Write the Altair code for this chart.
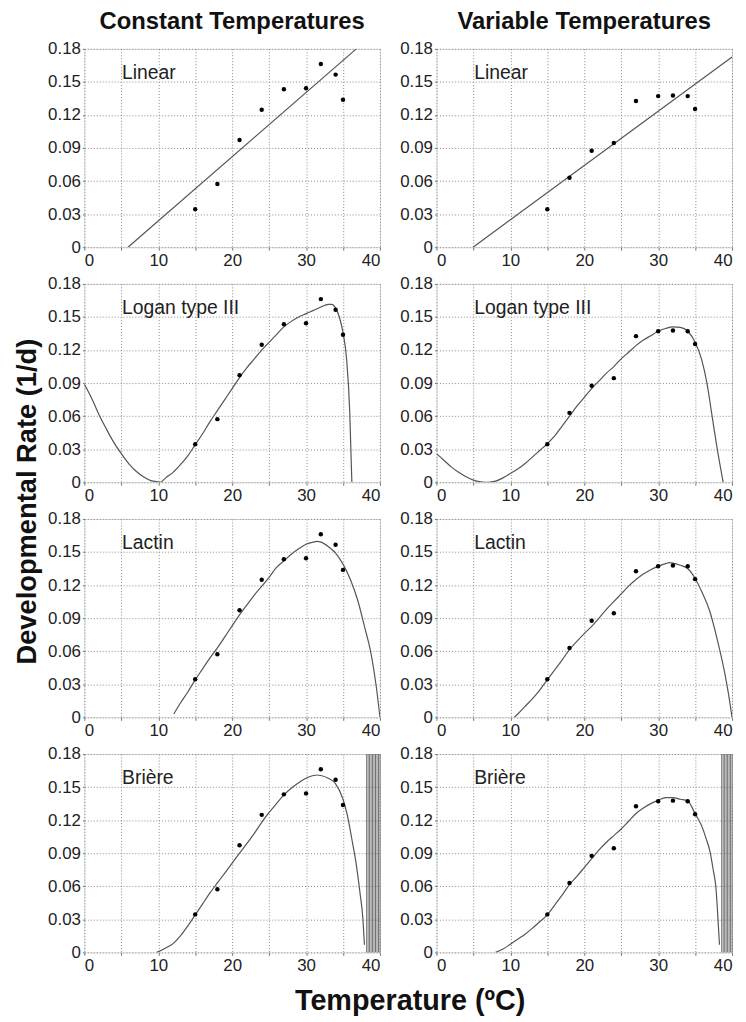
import altair as alt
import pandas as pd

# ---------------- data ----------------
temps = [15, 18, 21, 24, 27, 30, 32, 34, 35]
rate_constant = [0.0345, 0.0573, 0.0972, 0.1248, 0.1434, 0.1443, 0.1662, 0.1566, 0.1338]
rate_variable = [0.0345, 0.0630, 0.0876, 0.0945, 0.1326, 0.1371, 0.1377, 0.1371, 0.1254]

# Linear fits (end points)
lin_c_T = [5.9, 36.8]
lin_c_R = [0.0, 0.18]
lin_v_T = [4.95, 40.0]
lin_v_R = [0.0, 0.1725]

# Logan type III
logan_c_T = [0, 1, 2, 3, 4, 5, 6, 7, 8, 9, 10, 10.3, 11, 12, 13, 14, 15, 16, 17, 18, 19, 20,
             21, 22, 23, 24, 25, 26, 27, 28, 29, 30, 31, 32, 33, 33.5, 34, 34.5, 35, 35.5, 35.9, 36.2]
logan_c_R = [0.089, 0.076, 0.061, 0.048, 0.036, 0.026, 0.017, 0.010, 0.005, 0.0015, 0.0003, 0.0,
             0.004, 0.009, 0.016, 0.024, 0.034, 0.044, 0.055, 0.065, 0.075, 0.085, 0.095, 0.104,
             0.112, 0.120, 0.127, 0.134, 0.141, 0.146, 0.150, 0.153, 0.156, 0.159, 0.1615, 0.1615,
             0.158, 0.150, 0.136, 0.111, 0.066, 0.0]
logan_v_T = [0, 1, 2, 3, 4, 5, 6, 7, 8, 9, 10, 11, 12, 13, 14, 15, 16, 17, 18, 19, 20, 21, 22,
             23, 24, 25, 26, 27, 28, 29, 30, 31, 32, 33, 34, 35, 35.9, 36.6, 37.3, 38, 38.8]
logan_v_R = [0.026, 0.020, 0.014, 0.009, 0.005, 0.002, 0.0005, 0.0, 0.001, 0.004, 0.008, 0.012,
             0.017, 0.023, 0.029, 0.035, 0.042, 0.051, 0.060, 0.069, 0.077, 0.085, 0.092, 0.099,
             0.105, 0.112, 0.118, 0.124, 0.129, 0.133, 0.137, 0.1395, 0.141, 0.1405, 0.137, 0.127,
             0.111, 0.090, 0.060, 0.030, 0.0]

# Lactin
lactin_c_T = [12.1, 13, 14, 15, 16, 17, 18, 19, 20, 21, 22, 23, 24, 25, 26, 27, 28, 29, 30, 31,
              31.5, 32, 33, 34, 35, 36, 37, 38, 38.7, 39, 39.5, 40]
lactin_c_R = [0.003, 0.013, 0.023, 0.034, 0.044, 0.054, 0.063, 0.073, 0.083, 0.093, 0.102, 0.111,
              0.119, 0.127, 0.136, 0.142, 0.148, 0.153, 0.157, 0.159, 0.1596, 0.159, 0.155, 0.149,
              0.139, 0.125, 0.106, 0.080, 0.061, 0.050, 0.028, 0.0]
lactin_v_T = [10.5, 11, 12, 13, 14, 15, 16, 17, 18, 19, 20, 21, 22, 23, 24, 25, 26, 27, 28, 29,
              30, 31, 31.5, 32, 33, 34, 35, 36, 37, 38, 39, 39.5, 40]
lactin_v_R = [0.0, 0.003, 0.010, 0.017, 0.025, 0.034, 0.043, 0.052, 0.0615, 0.069, 0.076, 0.0825,
              0.090, 0.098, 0.105, 0.112, 0.119, 0.125, 0.130, 0.134, 0.137, 0.1395, 0.1404,
              0.140, 0.138, 0.135, 0.126, 0.1125, 0.096, 0.0705, 0.0405, 0.022, 0.0]

# Brière
briere_c_T = [9.8, 11, 12, 13, 14, 15, 16, 17, 18, 19, 20, 21, 22, 23, 24, 25, 26, 27, 28, 29, 30,
              31, 31.5, 32, 33, 34, 35, 35.5, 35.9, 36.3, 36.7, 37.3, 37.7, 37.9]
briere_c_R = [0.0, 0.004, 0.008, 0.015, 0.024, 0.034, 0.044, 0.054, 0.063, 0.072, 0.081, 0.090,
              0.099, 0.108, 0.118, 0.127, 0.135, 0.143, 0.149, 0.154, 0.158, 0.1605, 0.161,
              0.1605, 0.158, 0.153, 0.139, 0.127, 0.114, 0.099, 0.084, 0.054, 0.030, 0.007]
briere_v_T = [8, 9, 10, 11, 12, 13, 14, 15, 16, 17, 18, 19, 20, 21, 22, 23, 24, 25, 26, 27, 28,
              29, 30, 31, 32, 33, 34, 35, 36, 36.5, 37, 37.5, 37.8, 38.1, 38.3]
briere_v_R = [0.0, 0.003, 0.0075, 0.012, 0.0165, 0.022, 0.028, 0.034, 0.043, 0.052, 0.0615, 0.069,
              0.077, 0.085, 0.093, 0.100, 0.106, 0.112, 0.119, 0.126, 0.131, 0.135, 0.138,
              0.1405, 0.1405, 0.139, 0.1374, 0.126, 0.113, 0.103, 0.092, 0.073, 0.060, 0.030,
              0.007]

# spikes of the Brière curve beyond its upper threshold
briere_c_spikes = [38.2, 38.4, 38.6, 38.8, 39.0, 39.2, 39.4, 39.6, 39.8, 40.0]
briere_v_spikes = [38.6, 38.8, 39.0, 39.2, 39.4, 39.6, 39.8, 40.0]

x_ticks = [0, 5, 10, 15, 20, 25, 30, 35, 40]
y_ticks = [0, 0.03, 0.06, 0.09, 0.12, 0.15, 0.18]

FONT = "Liberation Sans"
W, H = 298, 200

x_axis = alt.Axis(values=x_ticks, labelExpr="datum.value % 10 == 0 ? datum.label : ''",
                  title=None, grid=True, gridDash=[1, 2], gridColor="#8a8a8a", gridWidth=1,
                  domain=False, ticks=True, tickSize=3, tickColor="#777", labelPadding=2,
                  labelFontSize=17, labelColor="#222", labelFont=FONT)
y_axis = alt.Axis(values=y_ticks,
                  labelExpr="datum.value == 0 ? '0' : format(datum.value, '.2f')",
                  title=None, grid=True, gridDash=[1, 2], gridColor="#8a8a8a", gridWidth=1,
                  domain=False, ticks=True, tickSize=2, tickColor="#777", labelPadding=2,
                  labelFontSize=17, labelColor="#222", labelFont=FONT)

xs = alt.Scale(domain=[0, 40], nice=False, zero=False)
ys = alt.Scale(domain=[0, 0.18], nice=False, zero=False)


def panel(label, pts_R, cur_T, cur_R, spikes=None, title=None):
    pts = pd.DataFrame({"T": temps, "R": pts_R})
    cur = pd.DataFrame({"T": cur_T, "R": cur_R})
    layers = []
    if spikes:
        sp = pd.DataFrame({"T": spikes})
        layers.append(alt.Chart(sp).mark_rule(color="#707070", strokeWidth=1.0).encode(
            x=alt.X("T:Q", scale=xs, axis=x_axis)))
    layers.append(alt.Chart(cur).mark_line(color="#555555", strokeWidth=1.2,
                                          interpolate="monotone", clip=True).encode(
        x=alt.X("T:Q", scale=xs, axis=x_axis), y=alt.Y("R:Q", scale=ys, axis=y_axis)))
    layers.append(alt.Chart(pts).mark_circle(color="black", size=20, opacity=1).encode(
        x=alt.X("T:Q", scale=xs, axis=x_axis), y=alt.Y("R:Q", scale=ys, axis=y_axis)))
    layers.append(alt.Chart(pd.DataFrame({"t": [label]})).mark_text(
        align="left", baseline="middle", font=FONT, fontSize=19.5, color="#222").encode(
        x=alt.value(38), y=alt.value(24), text="t:N"))
    ch = alt.layer(*layers).properties(width=W, height=H)
    if title:
        ch = ch.properties(title=alt.TitleParams(title, font=FONT, fontSize=24,
                                                 fontWeight="bold", color="#111",
                                                 offset=6, anchor="middle"))
    return ch


panels = [
    panel("Linear", rate_constant, lin_c_T, lin_c_R, title="Constant Temperatures"),
    panel("Linear", rate_variable, lin_v_T, lin_v_R, title="Variable Temperatures"),
    panel("Logan type III", rate_constant, logan_c_T, logan_c_R),
    panel("Logan type III", rate_variable, logan_v_T, logan_v_R),
    panel("Lactin", rate_constant, lactin_c_T, lactin_c_R),
    panel("Lactin", rate_variable, lactin_v_T, lactin_v_R),
    panel("Brière", rate_constant, briere_c_T, briere_c_R, spikes=briere_c_spikes),
    panel("Brière", rate_variable, briere_v_T, briere_v_R, spikes=briere_v_spikes),
]

grid = alt.concat(*panels, columns=2, spacing={"row": 37, "column": 57},
                  bounds="flush").properties(
    title=alt.TitleParams("Developmental Rate (1/d)", orient="left", font=FONT, fontSize=27.5,
                          fontWeight="bold", color="#111", offset=6, anchor="middle", dx=-10))

chart = alt.hconcat(grid).properties(
    title=alt.TitleParams("Temperature (ºC)", orient="bottom", font=FONT, fontSize=29,
                          fontWeight="bold", color="#111", offset=14, anchor="middle", dx=37),
    padding={"left": 5, "top": -3, "right": 5, "bottom": 2},
).configure_view(stroke="#808080", strokeWidth=1.5).configure(background="white")

chart.save("out.html", embed_options={"renderer": "svg", "actions": False})
